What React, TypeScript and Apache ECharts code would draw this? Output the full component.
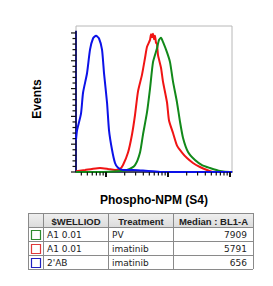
import React, { useEffect, useRef } from "react";
import * as echarts from "echarts";

// ---- data (fluorescence intensity, % of max) ----
const X_MIN = 328;
const X_MAX = 107700;
const Y_MAX = 105;
const Y_AXIS_TOP = 101.5;

const blueSeries: [number, number][] = [
  [328, 23], [341, 30], [395, 42], [426, 57], [494, 71], [552, 88], [617, 96], [690, 98],
  [771, 96], [862, 88], [929, 71], [1038, 50], [1118, 30], [1250, 16], [1397, 6.5],
  [1563, 3], [1880, 1.4], [2723, 1.4], [3952, 1], [5730, 0.6], [7430, 0], [107700, 0],
];
const redSeries: [number, number][] = [
  [328, 0.5], [353, 0.7], [459, 1.4], [594, 2.2], [800, 2.9], [1077, 2.2], [1397, 1.4],
  [1682, 2.2], [1880, 5], [2265, 14], [2626, 27], [2937, 41], [3282, 58], [3809, 70],
  [4257, 82], [4586, 90], [5128, 95], [5320, 99], [5520, 97], [5730, 99.5], [5943, 95.5],
  [6166, 98], [6397, 93], [6650, 92], [6900, 84], [7710, 75], [8300, 65], [9640, 50],
  [10380, 37], [12050, 28], [13970, 19], [16820, 14], [20240, 10], [25290, 6.5],
  [32800, 3.6], [42560, 1.4], [53200, 0], [107700, 0],
];
const greenSeries: [number, number][] = [
  [328, 0], [800, 0], [1682, 0.7], [2184, 1.4], [2937, 5], [3535, 14], [3952, 27],
  [4586, 43], [5128, 60], [5730, 79], [6650, 89], [7160, 95], [7710, 96.5], [8300, 93.5],
  [9640, 86], [10770, 79], [12050, 65], [13970, 50], [15630, 36], [17480, 24.5],
  [21030, 14.4], [27240, 8.6], [35330, 5], [47540, 2.9], [69000, 0.7], [100000, 0], [107700, 0],
];

const xMajorTicks = [1000, 10000, 100000];
const xMinorTicks = [
  400, 500, 600, 700, 800, 900,
  2000, 3000, 4000, 5000, 6000, 7000, 8000, 9000,
  20000, 30000, 40000, 50000, 60000, 70000, 80000, 90000,
];
const yMajorTicks = [0, 20, 40, 60, 80, 100];
const yMinorTicks = [4, 8, 12, 16, 24, 28, 32, 36, 44, 48, 52, 56, 64, 68, 72, 76, 84, 88, 92, 96];

const xTitle = "Phospho-NPM (S4)";
const yTitle = "Events";

// ---- table ----
const tableHeaders = ["", "$WELLIOD", "Treatment", "Median : BL1-A"];
const wellIds = ["A1 0.01", "A1 0.01", "2'AB"];
const treatments = ["PV", "imatinib", "imatinib"];
const medians = [7909, 5791, 656];
const rowColors = ["#2e8b2e", "#e03a3a", "#2020c0"];

const lg = (v: number) => Math.log10(v);

function buildTable() {
  const colX = [28, 43, 108, 173, 253];
  const rowY = [213, 227, 241, 255, 269];
  const els: any[] = [];
  const font = '9px "DejaVu Sans", sans-serif';
  const bold = 'bold 9.5px "Liberation Sans", Arial, sans-serif';
  els.push({
    type: "rect",
    shape: { x: colX[0], y: rowY[0], width: colX[4] - colX[0], height: rowY[1] - rowY[0] },
    style: {
      fill: new echarts.graphic.LinearGradient(0, 0, 0, 1, [
        { offset: 0, color: "#f0f0f0" },
        { offset: 1, color: "#dcdcdc" },
      ]),
    },
  });
  for (const y of rowY) {
    els.push({
      type: "line",
      shape: { x1: colX[0], y1: y + 0.5, x2: colX[4], y2: y + 0.5 },
      style: { stroke: "#8a8a8a", lineWidth: 1 },
    });
  }
  for (const x of colX) {
    els.push({
      type: "line",
      shape: { x1: x + 0.5, y1: rowY[0], x2: x + 0.5, y2: rowY[4] },
      style: { stroke: "#8a8a8a", lineWidth: 1 },
    });
  }
  for (let c = 1; c < 4; c++) {
    els.push({
      type: "text",
      style: {
        text: tableHeaders[c],
        x: (colX[c] + colX[c + 1]) / 2 + 0.5,
        y: (rowY[0] + rowY[1]) / 2 + 1,
        font: bold,
        fill: "#222",
        align: "center",
        verticalAlign: "middle",
      },
    });
  }
  for (let r = 0; r < 3; r++) {
    const cy = (rowY[r + 1] + rowY[r + 2]) / 2 + 1;
    els.push({
      type: "rect",
      shape: { x: 31.5, y: cy - 4.5, width: 9, height: 9 },
      style: { fill: "#fff", stroke: rowColors[r], lineWidth: 1.2 },
    });
    els.push({
      type: "text",
      style: { text: wellIds[r], x: 47, y: cy, font, fill: "#222", align: "left", verticalAlign: "middle" },
    });
    els.push({
      type: "text",
      style: { text: treatments[r], x: 112, y: cy, font, fill: "#222", align: "left", verticalAlign: "middle" },
    });
    els.push({
      type: "text",
      style: { text: String(medians[r]), x: 247, y: cy, font, fill: "#222", align: "right", verticalAlign: "middle" },
    });
  }
  return els;
}

export default function App() {
  const ref = useRef<HTMLDivElement>(null);
  useEffect(() => {
    if (!ref.current) return;
    const chart = echarts.init(ref.current, undefined, { renderer: "svg" });
    const toLog = (arr: [number, number][]) => arr.map(([x, y]) => [lg(x), y]);
    const xTickData = [
      ...xMajorTicks.map((v) => [lg(v), 0, 1]),
      ...xMinorTicks.map((v) => [lg(v), 0, 0]),
    ];
    const yTickData = [
      ...yMajorTicks.map((v) => [lg(X_MIN), v, 1]),
      ...yMinorTicks.map((v) => [lg(X_MIN), v, 0]),
    ];
    const curve = (name: string, data: [number, number][], color: string) => ({
      name,
      type: "line",
      data: toLog(data),
      showSymbol: false,
      smooth: 0.2,
      clip: true,
      lineStyle: { color, width: 2 },
      z: 3,
    });
    chart.setOption({
      animation: false,
      grid: {
        left: 76,
        right: 41,
        top: 26,
        bottom: 114,
        show: true,
        borderColor: "#b8b8b8",
        borderWidth: 1,
        backgroundColor: "transparent",
      },
      xAxis: {
        type: "value",
        min: lg(X_MIN),
        max: lg(X_MAX),
        name: xTitle,
        nameLocation: "middle",
        nameGap: 22,
        nameTextStyle: {
          fontFamily: '"Liberation Sans", Arial, sans-serif',
          fontWeight: "bold",
          fontSize: 12,
          color: "#000",
        },
        axisLine: { show: true, lineStyle: { color: "#15153a", width: 1.5 } },
        axisTick: { show: false },
        axisLabel: { show: false },
        splitLine: { show: false },
      },
      yAxis: {
        type: "value",
        min: 0,
        max: Y_MAX,
        name: yTitle,
        nameLocation: "middle",
        nameGap: 33,
        nameTextStyle: {
          fontFamily: '"Liberation Sans", Arial, sans-serif',
          fontWeight: "bold",
          fontSize: 12,
          color: "#000",
        },
        axisLine: { show: false },
        axisTick: { show: false },
        axisLabel: { show: false },
        splitLine: { show: false },
      },
      series: [
        {
          type: "line",
          data: [
            [lg(X_MIN), 0],
            [lg(X_MIN), Y_AXIS_TOP],
          ],
          showSymbol: false,
          clip: false,
          lineStyle: { color: "#1c1c70", width: 2 },
          z: 2,
          silent: true,
        },
        curve("imatinib", redSeries, "#f01414"),
        curve("PV", greenSeries, "#12891a"),
        curve("2'AB", blueSeries, "#0c12e8"),
        {
          type: "custom",
          data: xTickData,
          encode: { x: 0, y: 1 },
          clip: false,
          z: 4,
          renderItem: (params: any, api: any) => {
            const p = api.coord([api.value(0), 0]);
            const major = api.value(2) === 1;
            return {
              type: "line",
              shape: { x1: p[0], y1: p[1], x2: p[0], y2: p[1] + (major ? 5 : 3.5) },
              style: { stroke: "#111", lineWidth: major ? 2 : 1.2 },
            };
          },
        },
        {
          type: "custom",
          data: yTickData,
          encode: { x: 0, y: 1 },
          clip: false,
          z: 4,
          renderItem: (params: any, api: any) => {
            const p = api.coord([api.value(0), api.value(1)]);
            const major = api.value(2) === 1;
            return {
              type: "line",
              shape: { x1: p[0] - (major ? 5 : 3.5), y1: p[1], x2: p[0], y2: p[1] },
              style: { stroke: "#111", lineWidth: 1.2 },
            };
          },
        },
      ],
      graphic: buildTable(),
    });
    return () => chart.dispose();
  }, []);
  return (
    <div
      ref={ref}
      style={{ position: "fixed", left: 0, top: 0, width: 273, height: 286, background: "#fff" }}
    />
  );
}
